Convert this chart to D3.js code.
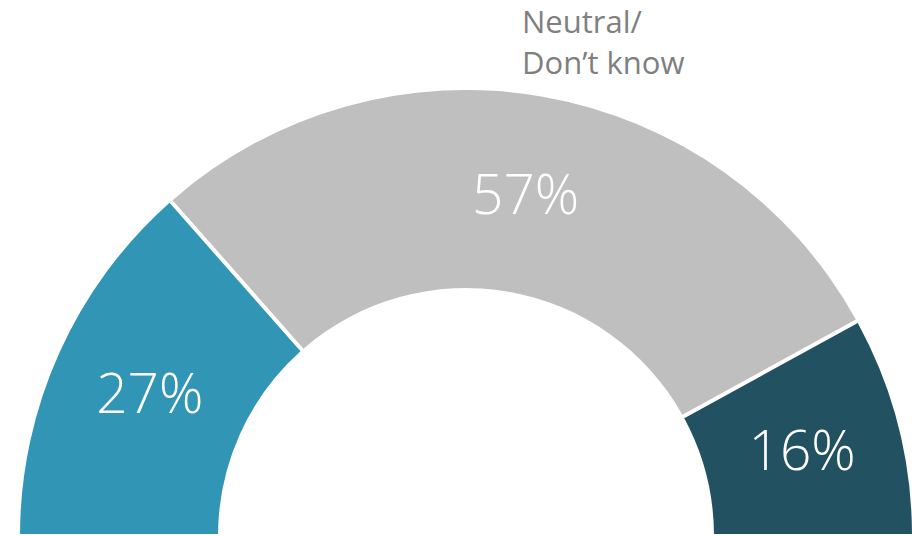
<!DOCTYPE html>
<html>
<head>
<meta charset="utf-8">
<script src="https://cdn.jsdelivr.net/npm/d3@7"></script>
<style>
  html, body { margin: 0; padding: 0; background: #ffffff; }
  svg { display: block; }
</style>
</head>
<body>
<svg id="chart" width="912" height="536"></svg>
<script>
const categories = ["Agree", "Neutral/Don\u2019t know", "Disagree"];
const values = [27, 57, 16];
const valueLabels = ["27%", "57%", "16%"];
const colors = ["#3195b5", "#bfbfbf", "#225161"];
const calloutLines = ["Neutral/", "Don\u2019t know"];

const W = 912, H = 536;
const cx = 466, cy = 536;
const outerR = 446, innerR = 248;

const svg = d3.select("#chart");
const g = svg.append("g").attr("transform", `translate(${cx},${cy})`);

const pie = d3.pie().sort(null).value(d => d.value)
  .startAngle(-Math.PI / 2).endAngle(Math.PI / 2);

const data = categories.map((c, i) => ({ name: c, value: values[i], label: valueLabels[i], color: colors[i] }));
const arcs = pie(data);

const arc = d3.arc().innerRadius(innerR).outerRadius(outerR)
  .padAngle(4 / outerR).padRadius(outerR);

g.selectAll("path.slice").data(arcs).enter().append("path")
  .attr("class", "slice")
  .attr("d", arc)
  .attr("fill", d => d.data.color);

const labelArc = d3.arc().innerRadius((innerR + outerR) / 2).outerRadius((innerR + outerR) / 2);

g.selectAll("text.val").data(arcs).enter().append("text")
  .attr("class", "val")
  .attr("x", d => labelArc.centroid(d)[0])
  .attr("y", d => labelArc.centroid(d)[1] + 20)
  .attr("text-anchor", "middle")
  .attr("font-family", "'Open Sans', sans-serif")
  .attr("font-weight", 300)
  .attr("font-size", 55)
  .attr("fill", "#ffffff")
  .text(d => d.data.label);

const callout = svg.append("text")
  .attr("x", 522)
  .attr("y", 33)
  .attr("font-family", "'Open Sans', sans-serif")
  .attr("font-size", 31)
  .attr("fill", "#7f7f7f");
callout.selectAll("tspan").data(calloutLines).enter().append("tspan")
  .attr("x", 522)
  .attr("dy", (d, i) => i === 0 ? 0 : 41)
  .text(d => d);
</script>
</body>
</html>
